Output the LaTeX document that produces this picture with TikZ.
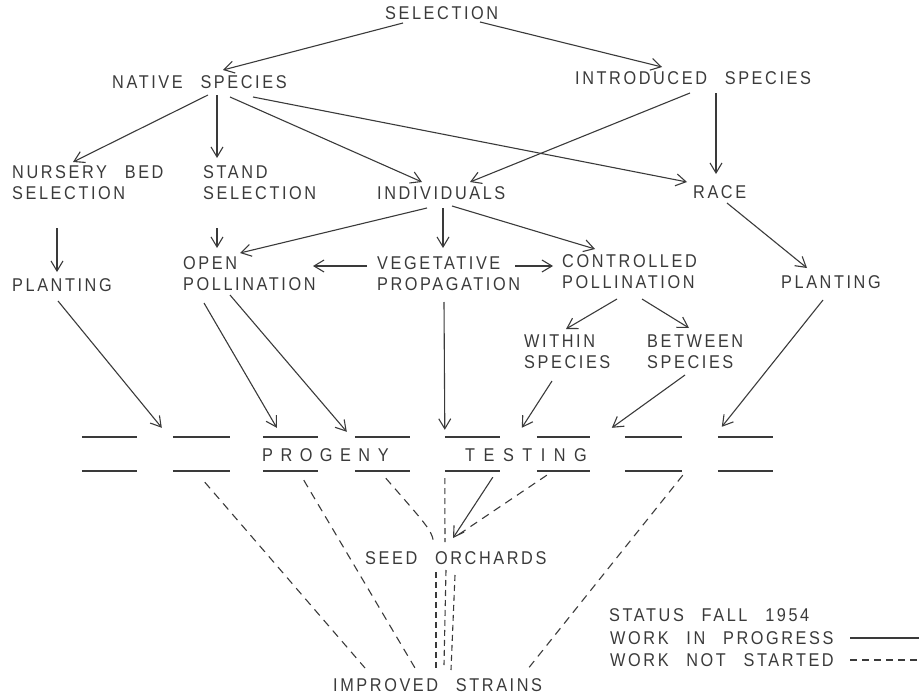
\documentclass[tikz,border=0pt]{standalone}
\usepackage{fontspec}
\setmainfont{Liberation Sans}[FakeStretch=0.88,LetterSpace=14,WordSpace=2.5]
\usetikzlibrary{arrows.meta}
\definecolor{ink}{HTML}{3A3A3A}
\tikzset{
  lbl/.style={anchor=west, align=left, inner sep=0pt, text=ink, font=\fontsize{18.5}{21}\selectfont},
  arr/.style={draw=ink, line width=1.1pt, -{Straight Barb[length=10pt,width=12pt,line width=1.1pt]}},
  ln/.style={draw=ink, line width=1.1pt},
  dsh/.style={draw=ink, line width=1.1pt, dash pattern=on 8pt off 6pt},
  dshs/.style={draw=ink, line width=1.1pt, dash pattern=on 6pt off 4pt},
  slot/.style={inner sep=0pt, minimum height=34pt},
  barline/.style={draw=ink, line width=1.8pt}
}
\begin{document}
\begin{tikzpicture}[x=1pt,y=-1pt]
\useasboundingbox (0,0) rectangle (919,696);
% text nodes
\node[lbl] (sel) at (385,13) {SELECTION};
\node[lbl] (nat) at (112,82) {NATIVE SPECIES};
\node[lbl] (intro) at (575,78) {INTRODUCED SPECIES};
\node[lbl] (nur) at (12,183) {NURSERY BED\\SELECTION};
\node[lbl] (stand) at (203,183) {STAND\\SELECTION};
\node[lbl] (ind) at (377,193) {INDIVIDUALS};
\node[lbl] (race) at (693,192) {RACE};
\node[lbl] (plantL) at (12,285) {PLANTING};
\node[lbl] (open) at (183,274) {OPEN\\POLLINATION};
\node[lbl] (veg) at (377,274) {VEGETATIVE\\PROPAGATION};
\node[lbl] (ctrl) at (562,272) {CONTROLLED\\POLLINATION};
\node[lbl] (plantR) at (781,282) {PLANTING};
\node[lbl] (within) at (524,352) {WITHIN\\SPECIES};
\node[lbl] (between) at (647,352) {BETWEEN\\SPECIES};
\node[lbl] (prog) at (262,455) {P\hskip 7.5pt R\hskip 7.5pt O\hskip 7.5pt G\hskip 7.5pt E\hskip 7.5pt N\hskip 7.5pt Y};
\node[lbl] (test) at (465,455) {T\hskip 8.5pt E\hskip 8.5pt S\hskip 8.5pt T\hskip 8.5pt I\hskip 8.5pt N\hskip 8.5pt G};
\node[lbl] (seed) at (365,558) {SEED ORCHARDS};
\node[lbl] (impr) at (333,685) {IMPROVED STRAINS};
\node[lbl] (stat) at (609,615) {STATUS FALL 1954};
\node[lbl] (wip) at (610,638) {WORK IN PROGRESS};
\node[lbl] (wns) at (610,660) {WORK NOT STARTED};
\coordinate (lgA) at (919,638);
\coordinate (lgB) at (919,660);
% progeny testing slots
\node[slot, minimum width=55pt] (b1) at (109.5,454) {};
\node[slot, minimum width=57pt] (b2) at (201.5,454) {};
\node[slot, minimum width=55pt] (b3) at (290.5,454) {};
\node[slot, minimum width=55pt] (b4) at (382.5,454) {};
\node[slot, minimum width=55pt] (b5) at (472.5,454) {};
\node[slot, minimum width=53pt] (b6) at (563.5,454) {};
\node[slot, minimum width=57pt] (b7) at (653.5,454) {};
\node[slot, minimum width=55pt] (b8) at (745.5,454) {};
\foreach \i in {1,...,8}
  \draw[barline] (b\i.north west) -- (b\i.north east) (b\i.south west) -- (b\i.south east);
% solid arrows
\draw[arr] ([shift={(18,10)}]sel.west) -- ([shift={(111,-12)}]nat.west);
\draw[arr] ([shift={(95,9)}]sel.west) -- ([shift={(87,-11)}]intro.west);
\draw[arr] ([shift={(96,13)}]nat.west) -- ([shift={(61,-21)}]nur.west);
\draw[arr] ([shift={(105,13)}]nat.west) -- ([shift={(14,-25)}]stand.west);
\draw[arr] ([shift={(118,15)}]nat.west) -- ([shift={(45,-11)}]ind.west);
\draw[arr] ([shift={(141,15)}]nat.west) -- ([shift={(-6,-10)}]race.west);
\draw[arr] ([shift={(115,15)}]intro.west) -- ([shift={(93,-11)}]ind.west);
\draw[arr] ([shift={(141,15)}]intro.west) -- ([shift={(23,-18)}]race.west);
\draw[arr] ([shift={(45,45)}]nur.west) -- ([shift={(45,-13)}]plantL.west);
\draw[arr] ([shift={(14,45)}]stand.west) -- ([shift={(34,-26)}]open.west);
\draw[arr] ([shift={(50,15)}]ind.west) -- ([shift={(57,-21)}]open.west);
\draw[arr] ([shift={(66,15)}]ind.west) -- ([shift={(66,-26)}]veg.west);
\draw[arr] ([shift={(75,13)}]ind.west) -- ([shift={(33,-23)}]ctrl.west);
\draw[arr] ([shift={(-10,-8)}]veg.west) -- ([shift={(130,-8)}]open.west);
\draw[arr] ([shift={(138,-8)}]veg.west) -- ([shift={(-9,-6)}]ctrl.west);
\draw[arr] ([shift={(34,11)}]race.west) -- ([shift={(26,-14)}]plantR.west);
\draw[arr] ([shift={(55,27)}]ctrl.west) -- ([shift={(42,-23)}]within.west);
\draw[arr] ([shift={(80,27)}]ctrl.west) -- ([shift={(42,-24)}]between.west);
\draw[arr] ([shift={(46,16)}]plantL.west) -- ([shift={(-11,-9)}]b2.north west);
\draw[arr] ([shift={(21,29)}]open.west) -- ([shift={(14,-9)}]b3.north west);
\draw[arr] ([shift={(47,21)}]open.west) -- ([shift={(-8,-5)}]b4.north west);
\draw[arr] ([shift={(67,28)}]veg.west) -- ([shift={(0,-7)}]b5.north west);
\draw[arr] ([shift={(28,29)}]within.west) -- ([shift={(-15,-9)}]b6.north west);
\draw[arr] ([shift={(38,23)}]between.west) -- ([shift={(-13,-9)}]b7.north west);
\draw[arr] ([shift={(42,18)}]plantR.west) -- ([shift={(4,-10)}]b8.north west);
% to seed orchards
\draw[arr] ([shift={(48,6)}]b5.south west) -- ([shift={(88,-20)}]seed.west);
\draw[dsh] ([shift={(10,4)}]b6.south west) -- ([shift={(90,-21)}]seed.west);
\draw[dshs] ([shift={(0,7)}]b5.south west) -- ([shift={(80,-16)}]seed.west);
\draw[dsh] ([shift={(31,7)}]b4.south west) .. controls ([shift={(67,-27)}]seed.west) .. ([shift={(69,-13)}]seed.west);
% seed orchards to improved strains
\draw[dshs] ([shift={(71,14)}]seed.west) -- ([shift={(103,-17)}]impr.west);
\draw[dshs] ([shift={(81,12)}]seed.west) -- ([shift={(111,-20)}]impr.west);
\draw[dshs] ([shift={(90,17)}]seed.west) -- ([shift={(118,-15)}]impr.west);
% progeny to improved strains
\draw[dsh] ([shift={(32,11)}]b2.south west) -- ([shift={(32,-17)}]impr.west);
\draw[dsh] ([shift={(41,9)}]b3.south west) -- ([shift={(82,-17)}]impr.west);
\draw[dsh] ([shift={(58,4)}]b7.south west) -- ([shift={(194,-15)}]impr.west);
% legend
\draw[ln] ([shift={(240,0)}]wip.west) -- (lgA);
\draw[ink, line width=1.1pt, dash pattern=on 7pt off 5pt] ([shift={(240,0)}]wns.west) -- (lgB);
\end{tikzpicture}
\end{document}
